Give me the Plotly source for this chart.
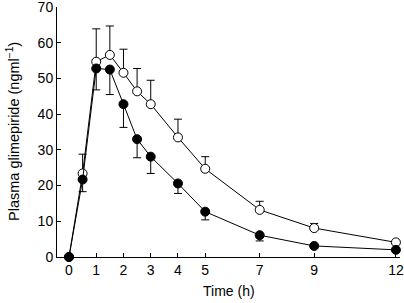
import plotly.graph_objects as go

time_h = [0, 0.5, 1, 1.5, 2, 2.5, 3, 4, 5, 7, 9, 12]
open_vals = [0, 23.4, 54.7, 56.6, 51.6, 46.4, 42.8, 33.5, 24.7, 13.2, 8.1, 4.1]
open_err = [0, 5.4, 9.2, 8.1, 6.6, 6.4, 6.7, 5.1, 3.4, 2.4, 1.3, 0.5]
filled_vals = [0, 21.7, 52.8, 52.5, 42.8, 33.0, 28.1, 20.6, 12.7, 6.1, 3.1, 2.0]
filled_err = [0, 3.4, 6.0, 7.0, 6.5, 5.2, 4.7, 2.8, 2.3, 1.6, 0.6, 0.3]
x_ticks = [0, 1, 2, 3, 4, 5, 7, 9, 12]
y_ticks = [0, 10, 20, 30, 40, 50, 60, 70]

fig = go.Figure()
fig.add_trace(go.Scatter(
    x=time_h, y=open_vals, mode="lines+markers",
    line=dict(color="black", width=1),
    marker=dict(symbol="circle", size=9, color="white", line=dict(color="black", width=1)),
    error_y=dict(type="data", symmetric=False, array=open_err, arrayminus=[0]*len(open_err),
                 color="black", thickness=1, width=4),
    cliponaxis=False, showlegend=False))
fig.add_trace(go.Scatter(
    x=time_h, y=filled_vals, mode="lines+markers",
    line=dict(color="black", width=1),
    marker=dict(symbol="circle", size=9, color="black", line=dict(color="black", width=1)),
    error_y=dict(type="data", symmetric=False, array=[0]*len(filled_err), arrayminus=filled_err,
                 color="black", thickness=1, width=4),
    cliponaxis=False, showlegend=False))

fig.update_layout(
    width=404, height=303,
    margin=dict(l=57, r=4, t=7, b=46, autoexpand=False),
    paper_bgcolor="white", plot_bgcolor="white",
    font=dict(family="Liberation Sans, Arial, sans-serif", color="black", size=14),
    xaxis=dict(range=[-0.44, 12.15], tickmode="array", tickvals=x_ticks,
               ticks="inside", ticklen=4, tickcolor="black", showline=True,
               linecolor="black", linewidth=1, showgrid=False, zeroline=False,
               tickfont=dict(size=14), automargin=False, ticklabeloverflow="allow"),
    yaxis=dict(range=[0, 70.02], tickmode="array", tickvals=y_ticks,
               ticks="inside", ticklen=4, tickcolor="black", showline=True,
               linecolor="black", linewidth=1, showgrid=False, zeroline=False,
               tickfont=dict(size=14), automargin=False, ticklabeloverflow="allow"),
    annotations=[
        dict(text="Time (h)", xref="paper", yref="paper", x=0.5, y=0,
             yshift=-24, xanchor="center", yanchor="top", showarrow=False,
             font=dict(size=14)),
        dict(text="Plasma glimepiride (ngml<sup>−1</sup>)", xref="paper", yref="paper",
             x=0, y=0.5, xshift=-33, xanchor="right", yanchor="middle", textangle=-90,
             showarrow=False, font=dict(size=14.5)),
    ],
)
fig.write_html("out.html", config={"displayModeBar": False},
               post_script="document.body.style.margin='0';document.body.style.padding='0';")
